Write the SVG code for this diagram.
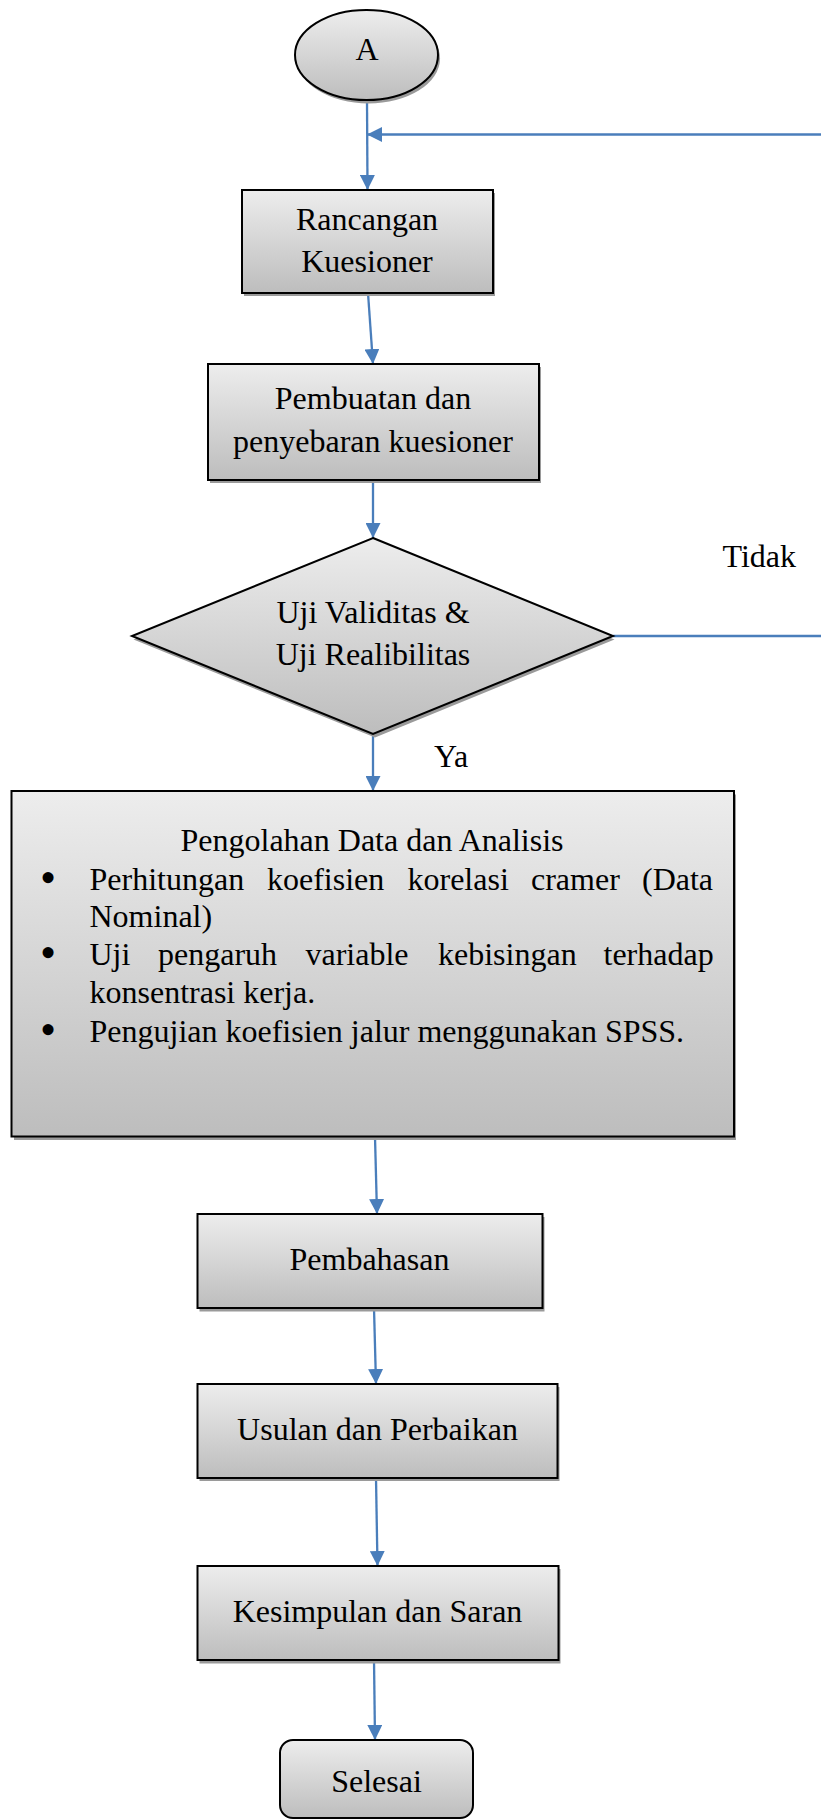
<svg xmlns="http://www.w3.org/2000/svg" width="821" height="1820" viewBox="0 0 821 1820">
<defs>
<linearGradient id="g" x1="0" y1="0" x2="0" y2="1">
<stop offset="0" stop-color="#ededed"/>
<stop offset="1" stop-color="#bdbdbd"/>
</linearGradient>
<marker id="ah" markerUnits="userSpaceOnUse" markerWidth="15" markerHeight="15" viewBox="0 0 14 14" refX="14" refY="7" orient="auto">
<path d="M0,0 L14,7 L0,14 z" fill="#4a7ebb"/>
</marker>
</defs>
<style>
.n{fill:url(#g);stroke:#000;stroke-width:2}
.sh{fill:#9a9a9a;stroke:none}
.t{font-family:"Liberation Serif","Times New Roman",serif;font-size:32px;fill:#000}
.c{text-anchor:middle}
.b{font-size:46px}
.e{stroke:#4a7ebb;stroke-width:2.3;fill:none}
</style>
<rect width="821" height="1820" fill="#fff"/>

<g id="connectors">
<line class="e" x1="367" y1="100" x2="367.5" y2="190" marker-end="url(#ah)"/>
<line class="e" x1="821" y1="134.5" x2="367" y2="134.5" marker-end="url(#ah)"/>
<line class="e" x1="368" y1="293" x2="373" y2="364" marker-end="url(#ah)"/>
<line class="e" x1="373" y1="480" x2="373" y2="538" marker-end="url(#ah)"/>
<line class="e" x1="373" y1="734" x2="373" y2="791" marker-end="url(#ah)"/>
<line class="e" x1="613" y1="636" x2="821" y2="636"/>
<line class="e" x1="375" y1="1137" x2="377" y2="1214" marker-end="url(#ah)"/>
<line class="e" x1="374" y1="1308" x2="376" y2="1384" marker-end="url(#ah)"/>
<line class="e" x1="376" y1="1478" x2="377.5" y2="1566" marker-end="url(#ah)"/>
<line class="e" x1="374" y1="1660" x2="375" y2="1740" marker-end="url(#ah)"/>
</g>

<g id="start">
<ellipse class="sh" cx="368.5" cy="58.5" rx="71.5" ry="45"/>
<ellipse class="n" cx="366.5" cy="55" rx="71.5" ry="45"/>
<text class="t c" x="367" y="60">A</text>
</g>

<g id="rancangan">
<rect class="sh" x="244" y="193" width="251" height="103"/>
<rect class="n" x="242" y="190" width="251" height="103"/>
<text class="t c" x="367" y="230">Rancangan</text>
<text class="t c" x="367" y="272">Kuesioner</text>
</g>

<g id="pembuatan">
<rect class="sh" x="210" y="367" width="331" height="116"/>
<rect class="n" x="208" y="364" width="331" height="116"/>
<text class="t c" x="373" y="409">Pembuatan dan</text>
<text class="t c" x="373" y="452">penyebaran kuesioner</text>
</g>

<g id="uji">
<polygon class="sh" points="375,541.5 614.5,639.5 375,737.5 133.5,639.5"/>
<polygon class="n" points="373,538 613,636 373,734 132,636"/>
<text class="t c" x="373" y="623">Uji Validitas &amp;</text>
<text class="t c" x="373" y="665">Uji Realibilitas</text>
</g>

<g id="label-tidak">
<text class="t" x="722.5" y="566.5">Tidak</text>
</g>
<g id="label-ya">
<text class="t" x="434" y="766.5">Ya</text>
</g>

<g id="pengolahan">
<rect class="sh" x="14" y="794.5" width="722" height="345.5"/>
<rect class="n" x="11.5" y="791" width="722.5" height="345.5"/>
<text class="t c" x="372" y="850.5">Pengolahan Data dan Analisis</text>
<text class="t b c" x="48" y="893">•</text>
<text class="t" y="890"><tspan x="89.5">Perhitungan</tspan><tspan x="267">koefisien</tspan><tspan x="407.5">korelasi</tspan><tspan x="531">cramer</tspan><tspan x="642">(Data</tspan></text>
<text class="t" x="89.5" y="927">Nominal)</text>
<text class="t b c" x="48" y="968">•</text>
<text class="t" y="965"><tspan x="89.5">Uji</tspan><tspan x="158">pengaruh</tspan><tspan x="305.5">variable</tspan><tspan x="438">kebisingan</tspan><tspan x="603.5">terhadap</tspan></text>
<text class="t" x="89.5" y="1002.5">konsentrasi kerja.</text>
<text class="t b c" x="48" y="1044.5">•</text>
<text class="t" x="89.5" y="1041.5">Pengujian koefisien jalur menggunakan SPSS.</text>
</g>

<g id="pembahasan">
<rect class="sh" x="199.5" y="1217" width="345" height="94.5"/>
<rect class="n" x="197.5" y="1214" width="345" height="94"/>
<text class="t c" x="369.5" y="1270">Pembahasan</text>
</g>

<g id="usulan">
<rect class="sh" x="199.5" y="1387" width="360" height="94"/>
<rect class="n" x="197.5" y="1384" width="360" height="94"/>
<text class="t c" x="377.5" y="1440">Usulan dan Perbaikan</text>
</g>

<g id="kesimpulan">
<rect class="sh" x="199.5" y="1569" width="361" height="94.5"/>
<rect class="n" x="197.5" y="1566" width="361" height="94"/>
<text class="t c" x="377.5" y="1621.5">Kesimpulan dan Saran</text>
</g>

<g id="selesai">
<rect class="n" x="280" y="1740" width="193" height="78" rx="13" ry="13"/>
<text class="t c" x="376.5" y="1791.5">Selesai</text>
</g>
</svg>
